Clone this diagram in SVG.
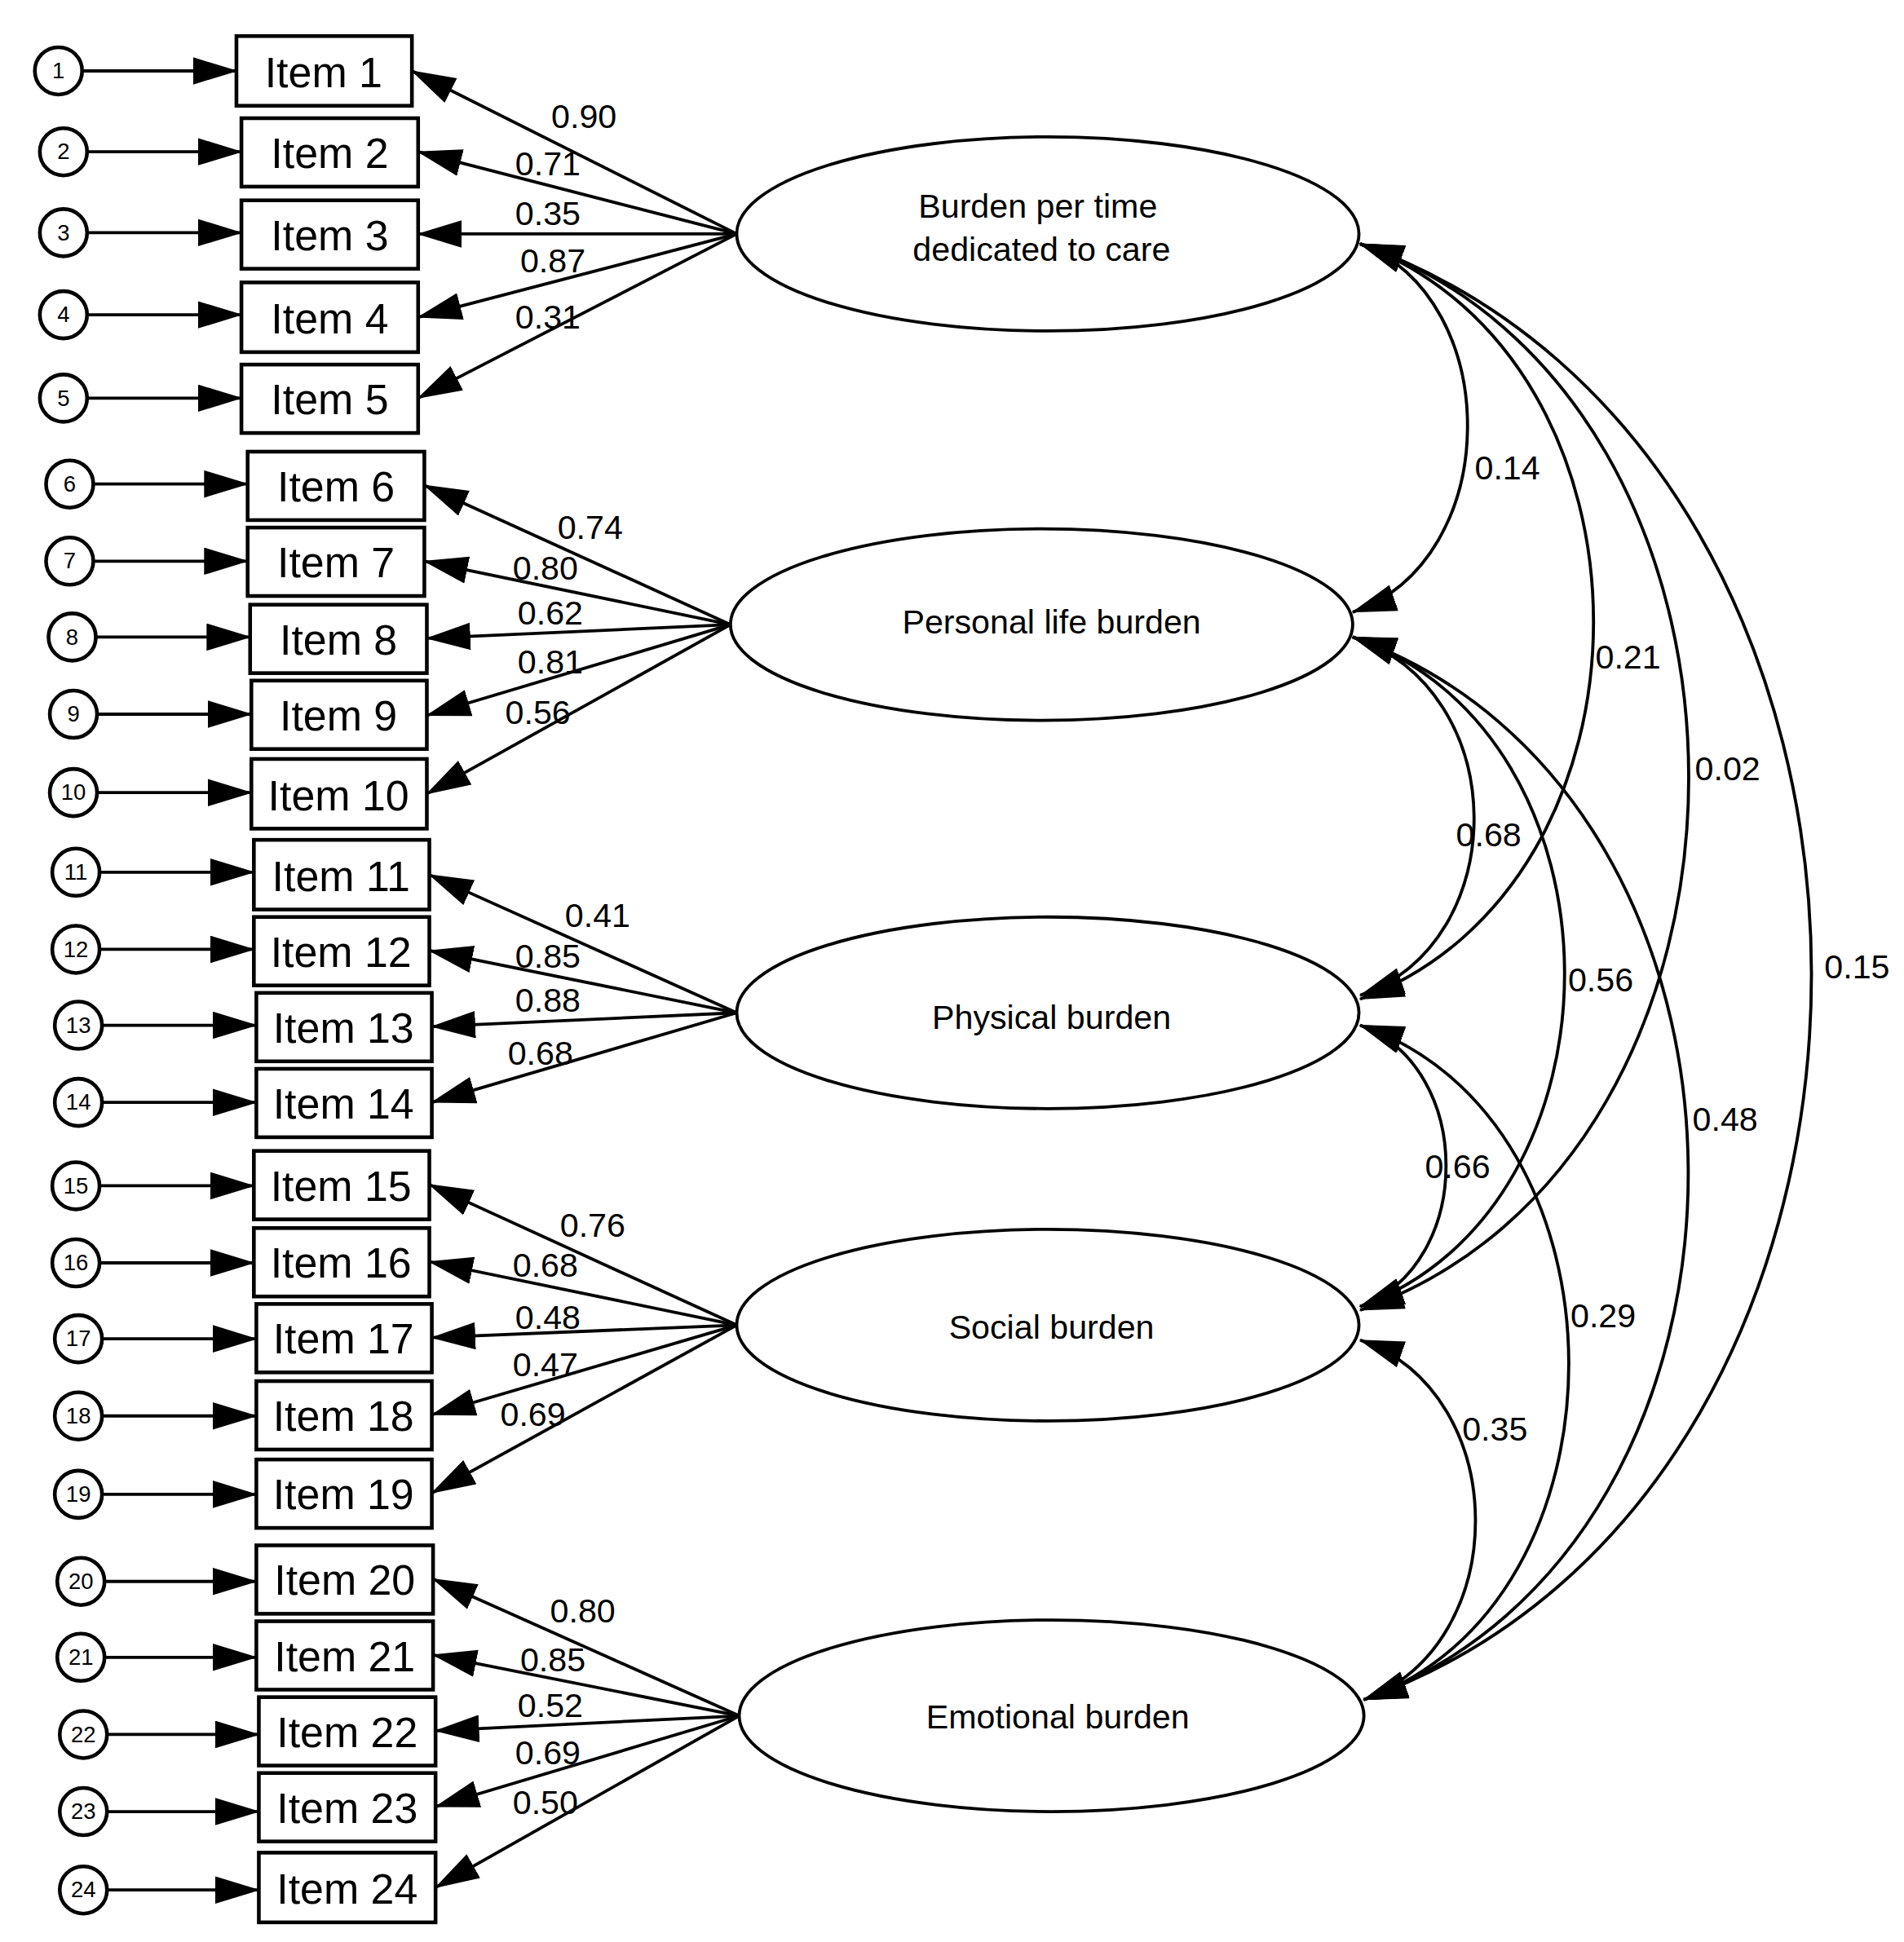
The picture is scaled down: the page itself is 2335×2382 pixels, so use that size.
<svg xmlns="http://www.w3.org/2000/svg" width="2335" height="2382" viewBox="0 0 2335 2382">
<defs>
<marker id="ah" markerUnits="userSpaceOnUse" markerWidth="36" markerHeight="24" refX="35" refY="11" orient="auto-start-reverse"><path d="M0,0 L36,11 L0,22 z" fill="#000"/></marker>
<style>
.box{fill:#fff;stroke:#000;stroke-width:3}
.err{fill:#fff;stroke:#000;stroke-width:3}
.lat{fill:#fff;stroke:#000;stroke-width:2.5}
.ln{fill:none;stroke:#000;stroke-width:2.5;marker-end:url(#ah)}
.cv{fill:none;stroke:#000;stroke-width:2.5;marker-end:url(#ah);marker-start:url(#ah)}
.it{font-family:"Liberation Sans",Arial,sans-serif;font-size:34px;text-anchor:middle}
.en{font-family:"Liberation Sans",Arial,sans-serif;font-size:18px;text-anchor:middle}
.lt{font-family:"Liberation Sans",Arial,sans-serif;font-size:27px;text-anchor:middle}
.lb{font-family:"Liberation Sans",Arial,sans-serif;font-size:27px}
</style>
</defs>
<rect width="2335" height="2382" fill="#fff"/>
<g transform="scale(1.52614)">
<g id="connectors">
<path class="ln" d="M66,57 H190"/><path class="ln" d="M70,122 H194"/><path class="ln" d="M70,187 H194"/><path class="ln" d="M70,253 H194"/><path class="ln" d="M70,320 H194"/>
<path class="ln" d="M75,389 H199"/><path class="ln" d="M75,451 H199"/><path class="ln" d="M77,512 H201"/><path class="ln" d="M78,574 H202"/><path class="ln" d="M78,637 H202"/>
<path class="ln" d="M80,701 H204"/><path class="ln" d="M80,763 H204"/><path class="ln" d="M82,824 H206"/><path class="ln" d="M82,886 H206"/>
<path class="ln" d="M80,953 H204"/><path class="ln" d="M80,1015 H204"/><path class="ln" d="M82,1076 H206"/><path class="ln" d="M82,1138 H206"/><path class="ln" d="M82,1201 H206"/>
<path class="ln" d="M84,1271 H206"/><path class="ln" d="M84,1332 H206"/><path class="ln" d="M86,1394 H208"/><path class="ln" d="M86,1456 H208"/><path class="ln" d="M86,1519 H208"/>
<path class="ln" d="M592,188 L331,57"/><path class="ln" d="M592,188 L336,122"/><path class="ln" d="M592,188 L336,188"/><path class="ln" d="M592,188 L336,255"/><path class="ln" d="M592,188 L336,320"/>
<path class="ln" d="M587,502 L341,390"/><path class="ln" d="M587,502 L341,451"/><path class="ln" d="M587,502 L343,513"/><path class="ln" d="M587,502 L343,575"/><path class="ln" d="M587,502 L343,638"/>
<path class="ln" d="M592,814 L345,703"/><path class="ln" d="M592,814 L345,764"/><path class="ln" d="M592,814 L347,825"/><path class="ln" d="M592,814 L347,886"/>
<path class="ln" d="M592,1065 L345,952"/><path class="ln" d="M592,1065 L345,1014"/><path class="ln" d="M592,1065 L347,1075"/><path class="ln" d="M592,1065 L347,1137"/><path class="ln" d="M592,1065 L347,1200"/>
<path class="ln" d="M594,1379 L348,1269"/><path class="ln" d="M594,1379 L348,1330"/><path class="ln" d="M594,1379 L350,1391"/><path class="ln" d="M594,1379 L350,1452"/><path class="ln" d="M594,1379 L350,1517"/>
<path class="cv" d="M1093,196 C1209,240 1209,450 1087,492"/>
<path class="cv" d="M1093,196 C1343,290 1343,710 1093,803"/>
<path class="cv" d="M1093,196 C1445,320 1445,930 1093,1053"/>
<path class="cv" d="M1093,196 C1576,370 1576,1195 1096,1366"/>
<path class="cv" d="M1087,512 C1216,555 1216,757 1093,800"/>
<path class="cv" d="M1087,512 C1313,590 1313,970 1093,1050"/>
<path class="cv" d="M1087,512 C1445,640 1445,1240 1096,1366"/>
<path class="cv" d="M1093,824 C1185,858 1185,1016 1093,1050"/>
<path class="cv" d="M1093,824 C1316,900 1316,1290 1096,1366"/>
<path class="cv" d="M1093,1077 C1216,1120 1216,1322 1096,1366"/>
</g>
<g id="labels">
<text class="lb" x="443" y="103">0.90</text><text class="lb" x="414" y="141">0.71</text><text class="lb" x="414" y="181">0.35</text><text class="lb" x="418" y="219">0.87</text><text class="lb" x="414" y="264">0.31</text>
<text class="lb" x="448" y="433">0.74</text><text class="lb" x="412" y="466">0.80</text><text class="lb" x="416" y="502">0.62</text><text class="lb" x="416" y="541">0.81</text><text class="lb" x="406" y="582">0.56</text>
<text class="lb" x="454" y="745">0.41</text><text class="lb" x="414" y="778">0.85</text><text class="lb" x="414" y="813">0.88</text><text class="lb" x="408" y="856">0.68</text>
<text class="lb" x="450" y="994">0.76</text><text class="lb" x="412" y="1026">0.68</text><text class="lb" x="414" y="1068">0.48</text><text class="lb" x="412" y="1106">0.47</text><text class="lb" x="402" y="1146">0.69</text>
<text class="lb" x="442" y="1304">0.80</text><text class="lb" x="418" y="1343">0.85</text><text class="lb" x="416" y="1380">0.52</text><text class="lb" x="414" y="1418">0.69</text><text class="lb" x="412" y="1458">0.50</text>
<text class="lb" x="1185" y="385">0.14</text><text class="lb" x="1282" y="537">0.21</text><text class="lb" x="1362" y="627">0.02</text><text class="lb" x="1466" y="786">0.15</text>
<text class="lb" x="1170" y="680">0.68</text><text class="lb" x="1260" y="797">0.56</text><text class="lb" x="1360" y="909">0.48</text>
<text class="lb" x="1145" y="947">0.66</text><text class="lb" x="1262" y="1067">0.29</text><text class="lb" x="1175" y="1158">0.35</text>
</g>
<g id="F1"><ellipse class="lat" cx="842" cy="188" rx="250" ry="78"/><text class="lt" x="834" y="175">Burden per time</text><text class="lt" x="837" y="210">dedicated to care</text></g>
<g id="F2"><ellipse class="lat" cx="837" cy="502" rx="250" ry="77"/><text class="lt" x="845" y="509">Personal life burden</text></g>
<g id="F3"><ellipse class="lat" cx="842" cy="814" rx="250" ry="77"/><text class="lt" x="845" y="827">Physical burden</text></g>
<g id="F4"><ellipse class="lat" cx="842" cy="1065" rx="250" ry="77"/><text class="lt" x="845" y="1076">Social burden</text></g>
<g id="F5"><ellipse class="lat" cx="845" cy="1379" rx="251" ry="77"/><text class="lt" x="850" y="1389">Emotional burden</text></g>
<g id="items">
<g id="item1"><rect class="box" x="190" y="29" width="141" height="56"/><text class="it" x="260" y="70">Item 1</text></g>
<g id="item2"><rect class="box" x="194" y="95" width="142" height="55"/><text class="it" x="265" y="135">Item 2</text></g>
<g id="item3"><rect class="box" x="194" y="161" width="142" height="55"/><text class="it" x="265" y="201">Item 3</text></g>
<g id="item4"><rect class="box" x="194" y="227" width="142" height="56"/><text class="it" x="265" y="268">Item 4</text></g>
<g id="item5"><rect class="box" x="194" y="293" width="142" height="55"/><text class="it" x="265" y="333">Item 5</text></g>
<g id="item6"><rect class="box" x="199" y="363" width="142" height="55"/><text class="it" x="270" y="403">Item 6</text></g>
<g id="item7"><rect class="box" x="199" y="424" width="142" height="55"/><text class="it" x="270" y="464">Item 7</text></g>
<g id="item8"><rect class="box" x="201" y="486" width="142" height="55"/><text class="it" x="272" y="526">Item 8</text></g>
<g id="item9"><rect class="box" x="202" y="547" width="141" height="55"/><text class="it" x="272" y="587">Item 9</text></g>
<g id="item10"><rect class="box" x="202" y="610" width="141" height="56"/><text class="it" x="272" y="651">Item 10</text></g>
<g id="item11"><rect class="box" x="204" y="675" width="141" height="56"/><text class="it" x="274" y="716">Item 11</text></g>
<g id="item12"><rect class="box" x="204" y="737" width="141" height="55"/><text class="it" x="274" y="777">Item 12</text></g>
<g id="item13"><rect class="box" x="206" y="798" width="141" height="55"/><text class="it" x="276" y="838">Item 13</text></g>
<g id="item14"><rect class="box" x="206" y="859" width="141" height="55"/><text class="it" x="276" y="899">Item 14</text></g>
<g id="item15"><rect class="box" x="204" y="925" width="141" height="55"/><text class="it" x="274" y="965">Item 15</text></g>
<g id="item16"><rect class="box" x="204" y="987" width="141" height="55"/><text class="it" x="274" y="1027">Item 16</text></g>
<g id="item17"><rect class="box" x="206" y="1048" width="141" height="55"/><text class="it" x="276" y="1088">Item 17</text></g>
<g id="item18"><rect class="box" x="206" y="1110" width="141" height="55"/><text class="it" x="276" y="1150">Item 18</text></g>
<g id="item19"><rect class="box" x="206" y="1173" width="141" height="55"/><text class="it" x="276" y="1213">Item 19</text></g>
<g id="item20"><rect class="box" x="206" y="1242" width="142" height="55"/><text class="it" x="277" y="1282">Item 20</text></g>
<g id="item21"><rect class="box" x="206" y="1303" width="142" height="55"/><text class="it" x="277" y="1343">Item 21</text></g>
<g id="item22"><rect class="box" x="208" y="1364" width="142" height="55"/><text class="it" x="279" y="1404">Item 22</text></g>
<g id="item23"><rect class="box" x="208" y="1425" width="142" height="55"/><text class="it" x="279" y="1465">Item 23</text></g>
<g id="item24"><rect class="box" x="208" y="1489" width="142" height="56"/><text class="it" x="279" y="1530">Item 24</text></g>
</g>
<g id="errors">
<g id="e1"><circle class="err" cx="47" cy="57" r="19"/><text class="en" x="47" y="63">1</text></g>
<g id="e2"><circle class="err" cx="51" cy="122" r="19"/><text class="en" x="51" y="128">2</text></g>
<g id="e3"><circle class="err" cx="51" cy="187" r="19"/><text class="en" x="51" y="193">3</text></g>
<g id="e4"><circle class="err" cx="51" cy="253" r="19"/><text class="en" x="51" y="259">4</text></g>
<g id="e5"><circle class="err" cx="51" cy="320" r="19"/><text class="en" x="51" y="326">5</text></g>
<g id="e6"><circle class="err" cx="56" cy="389" r="19"/><text class="en" x="56" y="395">6</text></g>
<g id="e7"><circle class="err" cx="56" cy="451" r="19"/><text class="en" x="56" y="457">7</text></g>
<g id="e8"><circle class="err" cx="58" cy="512" r="19"/><text class="en" x="58" y="518">8</text></g>
<g id="e9"><circle class="err" cx="59" cy="574" r="19"/><text class="en" x="59" y="580">9</text></g>
<g id="e10"><circle class="err" cx="59" cy="637" r="19"/><text class="en" x="59" y="643">10</text></g>
<g id="e11"><circle class="err" cx="61" cy="701" r="19"/><text class="en" x="61" y="707">11</text></g>
<g id="e12"><circle class="err" cx="61" cy="763" r="19"/><text class="en" x="61" y="769">12</text></g>
<g id="e13"><circle class="err" cx="63" cy="824" r="19"/><text class="en" x="63" y="830">13</text></g>
<g id="e14"><circle class="err" cx="63" cy="886" r="19"/><text class="en" x="63" y="892">14</text></g>
<g id="e15"><circle class="err" cx="61" cy="953" r="19"/><text class="en" x="61" y="959">15</text></g>
<g id="e16"><circle class="err" cx="61" cy="1015" r="19"/><text class="en" x="61" y="1021">16</text></g>
<g id="e17"><circle class="err" cx="63" cy="1076" r="19"/><text class="en" x="63" y="1082">17</text></g>
<g id="e18"><circle class="err" cx="63" cy="1138" r="19"/><text class="en" x="63" y="1144">18</text></g>
<g id="e19"><circle class="err" cx="63" cy="1201" r="19"/><text class="en" x="63" y="1207">19</text></g>
<g id="e20"><circle class="err" cx="65" cy="1271" r="19"/><text class="en" x="65" y="1277">20</text></g>
<g id="e21"><circle class="err" cx="65" cy="1332" r="19"/><text class="en" x="65" y="1338">21</text></g>
<g id="e22"><circle class="err" cx="67" cy="1394" r="19"/><text class="en" x="67" y="1400">22</text></g>
<g id="e23"><circle class="err" cx="67" cy="1456" r="19"/><text class="en" x="67" y="1462">23</text></g>
<g id="e24"><circle class="err" cx="67" cy="1519" r="19"/><text class="en" x="67" y="1525">24</text></g>
</g>
</g>
</svg>
